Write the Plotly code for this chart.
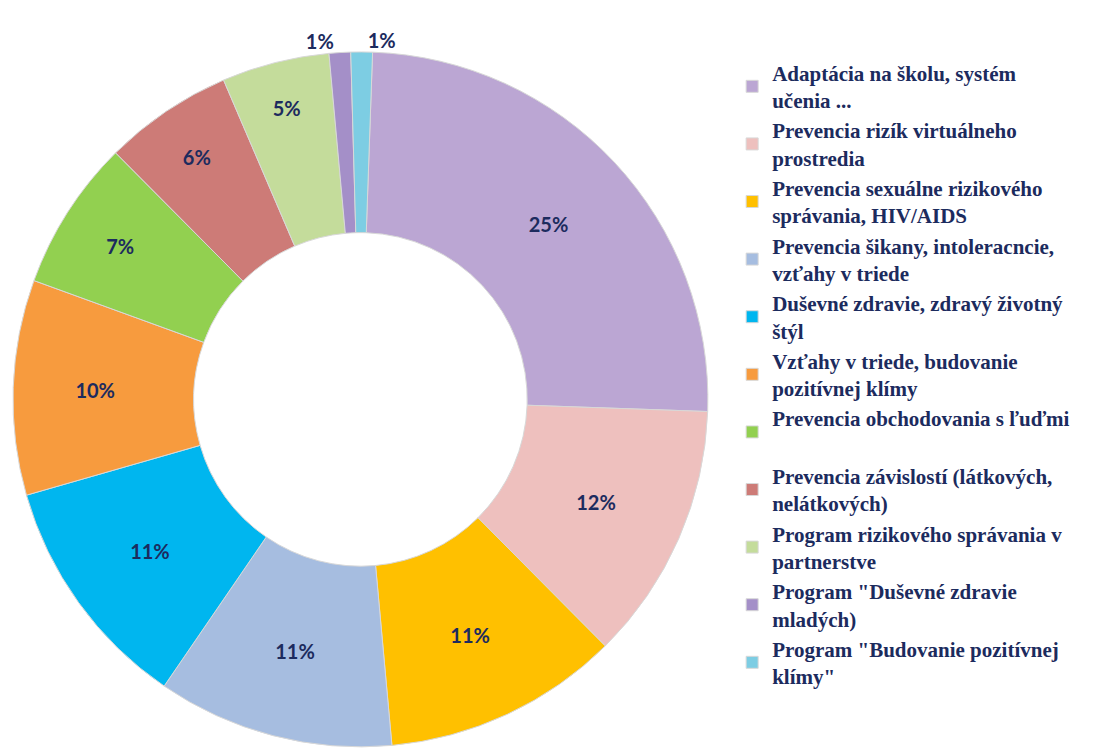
import plotly.graph_objects as go

# Podiel programov (v %)
kategorie = [
    'Adaptácia na školu, systém<br>učenia ...',
    'Prevencia rizík virtuálneho<br>prostredia',
    'Prevencia sexuálne rizikového<br>správania, HIV/AIDS',
    'Prevencia šikany, intoleracncie,<br>vzťahy v triede',
    'Duševné zdravie, zdravý životný<br>štýl',
    'Vzťahy v triede, budovanie<br>pozitívnej klímy',
    'Prevencia obchodovania s ľuďmi<br> ',
    'Prevencia závislostí (látkových,<br>nelátkových)',
    'Program rizikového správania v<br>partnerstve',
    'Program "Duševné zdravie<br>mladých)',
    'Program "Budovanie pozitívnej<br>klímy"',
]
hodnoty = [25, 12, 11, 11, 11, 10, 7, 6, 5, 1, 1]
farby = ['#bba6d3', '#eec0be', '#ffc000', '#a6bde0', '#00b6ef', '#f79b3e',
         '#92d050', '#cd7b77', '#c4dc9b', '#a48fc8', '#7dcde3']
pozicie_textu = ['inside'] * 9 + ['outside'] * 2

fig = go.Figure()
fig.add_trace(go.Pie(
    labels=kategorie,
    values=hodnoty,
    sort=False,
    direction='clockwise',
    rotation=2,
    hole=0.48,
    marker=dict(colors=farby, line=dict(color='#d8d8d8', width=1)),
    textinfo='percent',
    texttemplate='%{percent:.0%}',
    textposition=pozicie_textu,
    insidetextorientation='horizontal',
    textfont=dict(family='Lato', size=20, color='#1c2b5e', weight='bold'),
    domain=dict(x=[0.0, 0.63], y=[0.0, 0.945]),
))

fig.update_layout(
    width=1108,
    height=751,
    margin=dict(l=0, r=0, t=0, b=0),
    paper_bgcolor='white',
    showlegend=True,
    legend=dict(
        x=0.652, y=0.94, xanchor='left', yanchor='top',
        font=dict(family='Liberation Serif', size=21, color='#1c2b5e', weight='bold'),
        itemwidth=30,
        traceorder='normal',
    ),
)

fig.write_html("out.html")
